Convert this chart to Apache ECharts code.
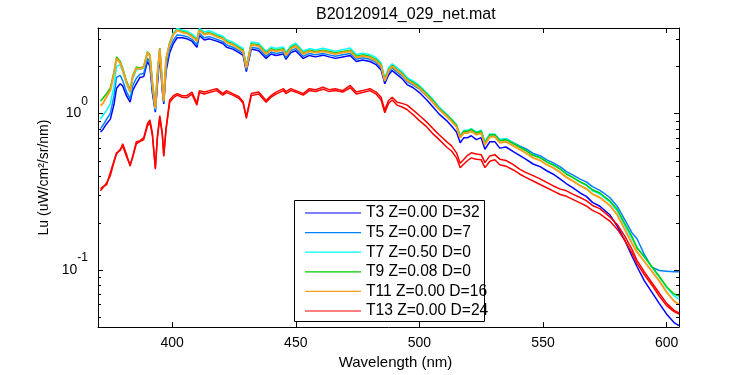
<!DOCTYPE html>
<html>
<head>
<meta charset="utf-8">
<title>B20120914_029_net.mat</title>
<script src="https://cdn.jsdelivr.net/npm/echarts@6/dist/echarts.min.js"></script>
<style>
  html, body { margin: 0; padding: 0; background: #fff; }
  #chart { width: 750px; height: 375px; }
</style>
</head>
<body>
<div id="chart"></div>
<script>
// wavelength grid (nm), shared by every cast
const wavelengths = [
  371, 372, 373.5, 375, 376.5, 377.5, 379, 380, 381.5, 383,
  384, 385.5, 387, 388.5, 390, 391, 392, 393.2, 394, 395,
  396, 396.6, 397.5, 399, 400.5, 402, 404, 406, 408, 410,
  411, 413, 415, 418, 420.5, 422, 424.5, 427, 428.7, 430,
  432, 435, 438, 440, 442, 445, 446, 448, 450, 453,
  455.5, 458, 461, 463.5, 466, 469, 472, 474.5, 477, 480,
  482.5, 484.5, 486, 487.5, 489, 491, 493, 495, 497.5, 500,
  503, 505.5, 508, 511, 513, 515, 516.5, 518, 519.5, 521,
  523, 525, 526.5, 528.5, 530.5, 532.5, 535, 538, 540.5, 543,
  546, 549, 551.5, 554, 557, 559.5, 562, 565, 567.5, 570,
  573, 577, 580, 583, 586, 588, 591, 594, 597, 600,
  603, 605
]

// Lu values, uW/cm^2/sr/nm
const t3 = [
  0.76, 0.79, 0.86, 0.92, 1.15, 1.45, 1.55, 1.50, 1.30, 1.18,
  1.40, 1.55, 1.70, 1.72, 2.15, 2.00, 1.35, 1.02, 1.50, 2.35,
  1.40, 1.15, 1.85, 2.45, 2.80, 3.05, 3.05, 3.00, 2.90, 2.65,
  3.15, 2.95, 3.00, 2.90, 2.80, 2.65, 2.58, 2.45, 2.35, 1.85,
  2.58, 2.52, 2.25, 2.40, 2.35, 2.40, 2.22, 2.45, 2.52, 2.25,
  2.35, 2.30, 2.36, 2.30, 2.25, 2.30, 2.35, 2.15, 2.20, 2.15,
  2.05, 1.90, 1.55, 1.76, 1.88, 1.77, 1.67, 1.53, 1.46, 1.36,
  1.22, 1.10, 0.99, 0.90, 0.83, 0.76, 0.65, 0.70, 0.70, 0.72,
  0.68, 0.70, 0.59, 0.66, 0.66, 0.60, 0.61, 0.57, 0.54, 0.51,
  0.475, 0.455, 0.43, 0.41, 0.38, 0.355, 0.335, 0.31, 0.295, 0.27,
  0.255, 0.225, 0.19, 0.155, 0.122, 0.105, 0.085, 0.072, 0.061, 0.052,
  0.046, 0.044
]
const t5 = [
  0.80, 0.84, 0.92, 1.00, 1.30, 1.70, 1.75, 1.62, 1.38, 1.24,
  1.50, 1.68, 1.78, 1.80, 2.25, 2.12, 1.42, 1.04, 1.58, 2.45,
  1.45, 1.17, 1.98, 2.60, 2.95, 3.18, 3.15, 3.10, 2.98, 2.75,
  3.25, 3.05, 3.10, 2.98, 2.88, 2.74, 2.65, 2.52, 2.42, 1.90,
  2.65, 2.60, 2.32, 2.47, 2.42, 2.47, 2.28, 2.52, 2.60, 2.32,
  2.42, 2.37, 2.42, 2.37, 2.32, 2.37, 2.42, 2.22, 2.27, 2.22,
  2.12, 1.97, 1.60, 1.83, 1.95, 1.84, 1.74, 1.60, 1.52, 1.43,
  1.29, 1.17, 1.06, 0.96, 0.90, 0.83, 0.71, 0.77, 0.77, 0.79,
  0.75, 0.77, 0.65, 0.73, 0.73, 0.68, 0.69, 0.65, 0.62, 0.595,
  0.555, 0.535, 0.505, 0.485, 0.455, 0.425, 0.405, 0.38, 0.365, 0.34,
  0.322, 0.29, 0.255, 0.21, 0.172, 0.158, 0.125, 0.104, 0.099, 0.098,
  0.097, 0.097
]
const t7 = [
  0.92, 0.97, 1.05, 1.16, 1.50, 2.00, 2.05, 1.85, 1.55, 1.36,
  1.66, 1.90, 1.92, 1.95, 2.42, 2.32, 1.52, 1.07, 1.72, 2.62,
  1.55, 1.21, 2.22, 2.85, 3.28, 3.50, 3.42, 3.36, 3.22, 3.02,
  3.50, 3.33, 3.38, 3.22, 3.12, 2.96, 2.86, 2.70, 2.60, 2.02,
  2.86, 2.81, 2.50, 2.66, 2.60, 2.66, 2.45, 2.71, 2.81, 2.50,
  2.60, 2.55, 2.61, 2.56, 2.50, 2.56, 2.62, 2.38, 2.43, 2.38,
  2.27, 2.10, 1.68, 1.95, 2.08, 1.96, 1.85, 1.70, 1.61, 1.51,
  1.35, 1.23, 1.10, 0.99, 0.92, 0.85, 0.72, 0.78, 0.78, 0.80,
  0.76, 0.78, 0.66, 0.74, 0.74, 0.68, 0.69, 0.645, 0.61, 0.58,
  0.54, 0.52, 0.49, 0.47, 0.44, 0.41, 0.39, 0.362, 0.347, 0.32,
  0.305, 0.272, 0.238, 0.193, 0.158, 0.140, 0.120, 0.104, 0.090, 0.077,
  0.068, 0.065
]
const t9 = [
  1.20, 1.25, 1.34, 1.46, 1.86, 2.30, 2.15, 1.95, 1.62, 1.42,
  1.74, 1.98, 1.95, 2.00, 2.48, 2.38, 1.58, 1.09, 1.78, 2.62,
  1.57, 1.21, 2.22, 2.82, 3.22, 3.42, 3.34, 3.28, 3.14, 2.94,
  3.43, 3.24, 3.29, 3.14, 3.04, 2.89, 2.79, 2.64, 2.54, 1.98,
  2.79, 2.74, 2.44, 2.59, 2.54, 2.59, 2.39, 2.64, 2.74, 2.44,
  2.54, 2.49, 2.54, 2.49, 2.44, 2.49, 2.54, 2.32, 2.37, 2.32,
  2.21, 2.05, 1.65, 1.90, 2.03, 1.91, 1.81, 1.66, 1.58, 1.48,
  1.33, 1.21, 1.08, 0.98, 0.91, 0.84, 0.715, 0.77, 0.77, 0.79,
  0.75, 0.77, 0.645, 0.73, 0.73, 0.67, 0.68, 0.64, 0.61, 0.58,
  0.54, 0.52, 0.49, 0.47, 0.44, 0.41, 0.39, 0.365, 0.35, 0.325,
  0.31, 0.276, 0.244, 0.198, 0.163, 0.138, 0.121, 0.105, 0.091, 0.078,
  0.070, 0.068
]
const t11 = [
  1.12, 1.16, 1.28, 1.40, 1.80, 2.25, 2.10, 1.90, 1.58, 1.38,
  1.70, 1.95, 1.92, 1.98, 2.45, 2.35, 1.55, 1.08, 1.75, 2.60,
  1.55, 1.20, 2.20, 2.80, 3.20, 3.40, 3.30, 3.25, 3.10, 2.90,
  3.40, 3.20, 3.25, 3.10, 3.00, 2.85, 2.75, 2.60, 2.50, 1.95,
  2.75, 2.70, 2.40, 2.55, 2.50, 2.55, 2.35, 2.60, 2.70, 2.40,
  2.50, 2.45, 2.50, 2.45, 2.40, 2.45, 2.50, 2.28, 2.33, 2.28,
  2.17, 2.02, 1.62, 1.87, 2.00, 1.88, 1.78, 1.63, 1.55, 1.45,
  1.30, 1.18, 1.06, 0.96, 0.89, 0.82, 0.70, 0.75, 0.75, 0.77,
  0.73, 0.75, 0.63, 0.71, 0.71, 0.65, 0.66, 0.62, 0.59, 0.56,
  0.52, 0.50, 0.47, 0.45, 0.42, 0.39, 0.37, 0.345, 0.33, 0.305,
  0.29, 0.258, 0.225, 0.182, 0.148, 0.130, 0.113, 0.098, 0.085, 0.072,
  0.063, 0.060
]
const t13 = [
  0.33, 0.34, 0.35, 0.42, 0.50, 0.56, 0.58, 0.64, 0.55, 0.46,
  0.53, 0.66, 0.67, 0.70, 0.86, 0.91, 0.75, 0.44, 0.71, 0.97,
  0.75, 0.53, 0.80, 1.22, 1.30, 1.34, 1.30, 1.30, 1.37, 1.16,
  1.40, 1.37, 1.40, 1.44, 1.34, 1.40, 1.34, 1.28, 1.19, 0.95,
  1.34, 1.37, 1.21, 1.30, 1.37, 1.44, 1.38, 1.44, 1.40, 1.34,
  1.44, 1.42, 1.47, 1.42, 1.44, 1.40, 1.51, 1.37, 1.40, 1.44,
  1.37, 1.27, 1.05, 1.21, 1.27, 1.18, 1.16, 1.13, 1.05, 0.97,
  0.88, 0.80, 0.73, 0.66, 0.62, 0.56, 0.48, 0.51, 0.54, 0.56,
  0.55, 0.545, 0.485, 0.535, 0.545, 0.51, 0.50, 0.47, 0.44, 0.42,
  0.40, 0.38, 0.362, 0.345, 0.328, 0.32, 0.305, 0.29, 0.277, 0.258,
  0.246, 0.218, 0.195, 0.165, 0.135, 0.115, 0.097, 0.083, 0.071, 0.061,
  0.055, 0.053
]
// second T13 cast, slightly lower
const t13b = [
  0.32, 0.335, 0.36, 0.40, 0.49, 0.55, 0.59, 0.62, 0.53, 0.47,
  0.52, 0.64, 0.66, 0.68, 0.83, 0.88, 0.72, 0.45, 0.69, 0.94,
  0.73, 0.54, 0.78, 1.18, 1.26, 1.31, 1.27, 1.26, 1.33, 1.13,
  1.36, 1.33, 1.36, 1.40, 1.31, 1.36, 1.31, 1.25, 1.16, 0.93,
  1.30, 1.33, 1.18, 1.27, 1.33, 1.40, 1.34, 1.40, 1.37, 1.31,
  1.40, 1.38, 1.43, 1.38, 1.40, 1.37, 1.46, 1.33, 1.36, 1.40,
  1.33, 1.22, 1.01, 1.16, 1.22, 1.13, 1.10, 1.06, 0.98, 0.90,
  0.82, 0.74, 0.68, 0.61, 0.575, 0.52, 0.45, 0.475, 0.50, 0.52,
  0.51, 0.505, 0.45, 0.495, 0.505, 0.47, 0.46, 0.435, 0.41, 0.39,
  0.37, 0.35, 0.335, 0.32, 0.303, 0.295, 0.282, 0.268, 0.256, 0.24,
  0.228, 0.205, 0.182, 0.155, 0.128, 0.110, 0.093, 0.080, 0.068, 0.059,
  0.054, 0.052
]

const xTicks = [400, 450, 500, 550, 600]
const minorTicks = [0.05, 0.06, 0.07, 0.08, 0.09, 0.2, 0.3, 0.4, 0.5, 0.6, 0.7, 0.8, 0.9, 2, 3]

const FONT = "'Liberation Sans', Arial, sans-serif"

const seriesDefs = [
  { name: 'T3 Z=0.00 D=32', color: '#0000ff', width: 1.5, values: t3 },
  { name: 'T5 Z=0.00 D=7', color: '#0080ff', width: 1.5, values: t5 },
  { name: 'T7 Z=0.50 D=0', color: '#00ffff', width: 1.5, values: t7 },
  { name: 'T9 Z=0.08 D=0', color: '#00cc00', width: 1.5, values: t9 },
  { name: 'T11 Z=0.00 D=16', color: '#f7a020', width: 2, values: t11 },
  { name: 'T13 Z=0.00 D=24', color: '#ff0000', width: 1.5, values: t13 },
  { name: 'T13 Z=0.00 D=24', color: '#ff0000', width: 1.5, values: t13b },
]

const chart = echarts.init(document.getElementById('chart'))

const axisLine = { show: true, lineStyle: { color: '#000', width: 1 } }

const xAxisBase = {
  type: 'value',
  min: 370,
  max: 605,
  axisLine,
  axisTick: { show: true, inside: true, length: 5, customValues: xTicks, lineStyle: { color: '#000' } },
  splitLine: { show: false },
}

const yAxisBase = {
  type: 'log',
  logBase: 10,
  min: 0.043,
  max: 3.52,
  axisLine,
  axisTick: { show: true, inside: true, length: 5, lineStyle: { color: '#000' } },
  splitLine: { show: false },
  minorTick: { show: false },
}

const option = {
  animation: false,
  backgroundColor: '#fff',
  title: {
    text: 'B20120914_029_net.mat',
    left: 316,
    top: 7,
    padding: 0,
    textStyle: { fontSize: 16, fontWeight: 'normal', color: '#000', fontFamily: FONT },
  },
  grid: { left: 98, right: 71, top: 28, bottom: 43 },
  xAxis: [
    {
      ...xAxisBase,
      position: 'bottom',
      name: 'Wavelength (nm)',
      nameLocation: 'middle',
      nameGap: 25,
      nameTextStyle: { fontSize: 15, color: '#000', fontFamily: FONT, padding: [0, 0, 0, 14] },
      axisLabel: { customValues: xTicks, color: '#000', fontSize: 14, fontFamily: FONT, margin: 9 },
    },
    {
      ...xAxisBase,
      position: 'top',
      axisLabel: { show: false },
    },
  ],
  yAxis: [
    {
      ...yAxisBase,
      position: 'left',
      name: 'Lu (uW/cm\u00b2/sr/nm)',
      nameLocation: 'middle',
      nameGap: 38,
      nameTextStyle: { fontSize: 14, color: '#000', fontFamily: FONT },
      axisLabel: {
        color: '#000',
        margin: 10,
        fontFamily: FONT,
        formatter: (v) => {
          const e = Math.log10(v)
          if (Math.abs(e - Math.round(e)) > 1e-6) return ''
          return '{b|10}{s|' + Math.round(e) + '}'
        },
        rich: {
          b: { fontSize: 14, color: '#000', fontFamily: FONT, padding: [13, 0, 13, 0] },
          s: { fontSize: 12, color: '#000', fontFamily: FONT, padding: [2, 0, 26, 0] },
        },
      },
    },
    {
      ...yAxisBase,
      position: 'right',
      axisLabel: { show: false },
    },
  ],
  legend: {
    orient: 'vertical',
    left: 305,
    top: 205,
    padding: 0,
    icon: 'rect',
    itemWidth: 56,
    itemHeight: 1.2,
    itemGap: 3.6,
    selectedMode: false,
    z: 60,
    data: seriesDefs.slice(0, 6).map((s) => s.name),
    textStyle: { fontSize: 15.6, color: '#000', fontFamily: FONT },
  },
  series: seriesDefs.map((s) => ({
    name: s.name,
    type: 'line',
    symbol: 'none',
    data: wavelengths.map((x, i) => [x, s.values[i]]),
    lineStyle: { color: s.color, width: s.width },
    itemStyle: { color: s.color },
  })),
}

chart.setOption(option)

// log-decade minor ticks on both y sides + the legend box
const grid = { left: 98, right: 750 - 71 }
const graphics = [
  {
    type: 'rect',
    z: 50,
    shape: { x: 294.5, y: 200.5, width: 190, height: 121 },
    style: { fill: '#fff', stroke: '#000', lineWidth: 1 },
  },
]
minorTicks.forEach((v) => {
  const y = Math.round(chart.convertToPixel({ yAxisIndex: 0 }, v)) + 0.5
  graphics.push({
    type: 'line', z: 10, silent: true,
    shape: { x1: grid.left, y1: y, x2: grid.left + 3, y2: y },
    style: { stroke: '#000', lineWidth: 1 },
  })
  graphics.push({
    type: 'line', z: 10, silent: true,
    shape: { x1: grid.right - 3, y1: y, x2: grid.right, y2: y },
    style: { stroke: '#000', lineWidth: 1 },
  })
})
chart.setOption({ graphic: graphics })
</script>
</body>
</html>
